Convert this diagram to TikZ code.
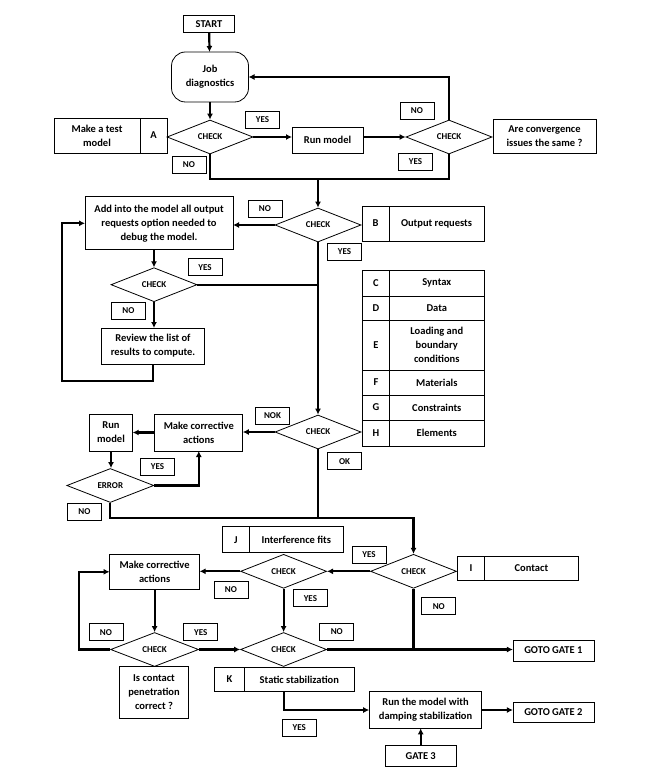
\documentclass[tikz,border=0pt]{standalone}
\usepackage{fontspec}
\setmainfont{Carlito}
\usetikzlibrary{
        arrows.meta,
        positioning,
        shapes.geometric
    }
\tikzset{>={Latex[length=6pt,width=6pt]},
    every node/.style={font=\bfseries\fontsize{10.5}{14}\selectfont},
    box/.style={draw,line width=0.8pt,align=center,inner sep=1pt,outer sep=0pt},
    check/.style={diamond,draw,line width=0.8pt,minimum width=86pt,minimum height=34pt,inner sep=0pt,
        font=\bfseries\fontsize{9}{10}\selectfont},
    tag/.style={draw,line width=0.8pt,minimum width=34pt,minimum height=17pt,inner sep=0pt,
        font=\bfseries\fontsize{9}{10}\selectfont},
    link/.style={line width=2.2pt}
}

\begin{document}
\begin{tikzpicture}[x=1pt,y=-1pt]
    \useasboundingbox (0,0) rectangle (649,775);
    % job diagnostics
    \node[box,minimum width=51pt,minimum height=17pt] (start) at (209,24) {START};
    \node[box,rounded corners=14pt,minimum width=77pt,minimum height=50pt] (jobdiag) at (210,77) {Job\\diagnostics};
    \node[check] (check1) at (210,137) {CHECK};
    \node[box,minimum width=27pt,minimum height=35pt] (keyA) at (153.5,135.5) {A};
    \node[box,minimum width=86pt,minimum height=35pt,left=0pt of keyA] (testmodel) {Make a test\\model};
    \node[tag] (yes1) at (262.5,119.5) {YES};
    \node[tag] (no1) at (189,165) {NO};
    \node[box,minimum width=71pt,minimum height=26pt] (runmodel) at (327.5,140) {Run model};
    \node[check] (check2) at (449,137) {CHECK};
    \node[box,minimum width=103pt,minimum height=34pt] (converge) at (544.5,136) {Are convergence\\issues the same ?};
    \node[tag] (no2) at (417,111) {NO};
    \node[tag] (yes2) at (415.5,161.5) {YES};
    \coordinate (joinA) at (318,179);

    % output requests
    \node[check] (checkB) at (318,225) {CHECK};
    \node[box,minimum width=27pt,minimum height=35pt] (keyB) at (375.5,223.5) {B};
    \node[box,minimum width=95pt,minimum height=35pt,right=0pt of keyB] (itemB) {Output requests};
    \node[tag] (noB) at (265,209) {NO};
    \node[tag] (yesB) at (344.5,252) {YES};
    \node[box,minimum width=148pt,minimum height=53pt] (addreq) at (159,223.3) {Add into the model all output\\requests option needed to\\debug the model.};
    \node[check] (check3) at (154,284.7) {CHECK};
    \node[tag] (yes3) at (205,267.3) {YES};
    \node[tag] (no3) at (128.5,311) {NO};
    \node[box,minimum width=103pt,minimum height=36pt] (review) at (153,346) {Review the list of\\results to compute.};
    \coordinate (loopB) at (61.7,380.7);

    \foreach \k/\txt/\yc/\h in {C/Syntax/283.3/25.3, D/Data/308/24, E/{Loading and\\boundary\\conditions}/345/50,
            F/Materials/382.5/25, G/Constraints/407.5/25, H/Elements/433.3/26.7}{
        \node[box,minimum width=26.6pt,minimum height=\h pt] (key\k) at (376,\yc) {\k};
        \node[box,minimum width=95pt,minimum height=\h pt,right=0pt of key\k] (item\k) {\txt};
    }

    % corrective actions
    \node[check] (check4) at (318,432) {CHECK};
    \node[tag] (nok) at (272.5,416) {NOK};
    \node[tag] (ok) at (344.5,461.3) {OK};
    \node[box,minimum width=88pt,minimum height=37pt] (fix1) at (198.8,432.5) {Make corrective\\actions};
    \node[box,minimum width=43.4pt,minimum height=37pt] (run2) at (111,432.5) {Run\\model};
    \node[check,minimum width=87pt] (error) at (110.3,485.5) {ERROR};
    \node[tag] (yes4) at (157.5,466.7) {YES};
    \node[tag] (no4) at (84.5,512) {NO};
    \coordinate (joinC) at (413.5,518.3);

    % contact
    \node[check] (checkI) at (413.5,571.3) {CHECK};
    \node[box,minimum width=27pt,minimum height=24.7pt] (keyI) at (470.9,568.3) {I};
    \node[box,minimum width=94pt,minimum height=24.7pt,right=0pt of keyI] (itemI) {Contact};
    \node[tag] (yesI) at (369,554.5) {YES};
    \node[tag] (noI) at (438.8,606.2) {NO};
    \node[check] (checkJ) at (283.6,571.3) {CHECK};
    \node[box,minimum width=27pt,minimum height=26pt] (keyJ) at (235.8,539.7) {J};
    \node[box,minimum width=94pt,minimum height=26pt,right=0pt of keyJ] (itemJ) {Interference fits};
    \node[tag] (noJ) at (231,589.5) {NO};
    \node[tag] (yesJ) at (310.4,598.3) {YES};
    \node[box,minimum width=90pt,minimum height=35pt] (fix2) at (154.6,571.8) {Make corrective\\actions};
    \node[check] (checkK) at (283.6,649.5) {CHECK};
    \node[tag] (noK) at (336.8,632) {NO};
    \node[check,minimum width=88pt] (checkL) at (154.6,649.5) {CHECK};
    \node[tag] (noL) at (106,632.3) {NO};
    \node[tag] (yesL) at (200.8,632.3) {YES};
    \node[box,minimum width=69.4pt,minimum height=51.6pt] (penetr) at (154,692.5) {Is contact\\penetration\\correct ?};
    \coordinate (loopL) at (79.2,649.5);
    \node[box,minimum width=30.3pt,minimum height=24.4pt] (keyK) at (229.4,679.5) {K};
    \node[box,minimum width=109.6pt,minimum height=24.4pt,right=0pt of keyK] (itemK) {Static stabilization};
    \node[box,minimum width=81pt,minimum height=21pt] (gate1) at (553.4,650.5) {GOTO GATE 1};
    \node[box,minimum width=112.6pt,minimum height=36.6pt] (damping) at (425.5,710) {Run the model with\\damping stabilization};
    \node[tag] (yesK) at (299.3,727.7) {YES};
    \node[box,minimum width=81pt,minimum height=20pt] (gate2) at (553.4,712) {GOTO GATE 2};
    \node[box,minimum width=70.5pt,minimum height=21.7pt] (gate3) at (420.7,755.8) {GATE 3};

    \draw[link,->] (start) -- (jobdiag);
    \draw[link,->] (jobdiag) -- (check1);
    \draw[link,->] (check1.east) -- (check1.east -| runmodel.west);
    \draw[link,->] (runmodel.east |- check2.west) -- (check2.west);
    \draw[link,->] (check2.north) |- (jobdiag.east);
    \draw[link] (check1.south) |- (joinA) -| (check2.south);
    \draw[link,->] (joinA) -- (checkB.north);
    \draw[link,->] (checkB.west) -- (checkB.west -| addreq.east);
    \draw[link,->] (check3.north |- addreq.south) -- (check3.north);
    \draw[link] (check3.east) -- (check3.east -| checkB.south);
    \draw[link,->] (check3.south) -- (check3.south |- review.north);
    \draw[link,->] (review.south) |- (loopB) |- (addreq.west);
    \draw[link,->] (checkB.south) -- (check4.north);
    \draw[link,->] (check4.west) -- (check4.west -| fix1.east);
    \draw[link,->] (fix1.west) -- (run2.east);
    \draw[link,->] (run2.south) -- (run2.south |- error.north);
    \draw[link,->] (error.east) -| (fix1.south);
    \draw[link] (check4.south) -- (check4.south |- joinC);
    \draw[link,->] (error.south) |- (joinC) -- (checkI.north);
    \draw[link,->] (checkI.west) -- (checkJ.east);
    \draw[link,->] (checkJ.west) -- (checkJ.west -| fix2.east);
    \draw[link,->] (checkJ.south) -- (checkK.north);
    \draw[link,->] (checkK.east) -- (checkK.east -| gate1.west);
    \draw[link] (checkI.south) -- (checkI.south |- checkK.east);
    \draw[link,->] (fix2.south) -- (checkL.north);
    \draw[link,->] (checkL.east) -- (checkK.west);
    \draw[link,->] (checkL.west) -- (loopL) |- (fix2.west);
    \draw[link,->] (checkK.south |- itemK.south) |- (damping.west);
    \draw[link,->] (damping.east) -- (damping.east -| gate2.west);
    \draw[link,->] (gate3.north) -- (gate3.north |- damping.south);
\end{tikzpicture}
\end{document}
